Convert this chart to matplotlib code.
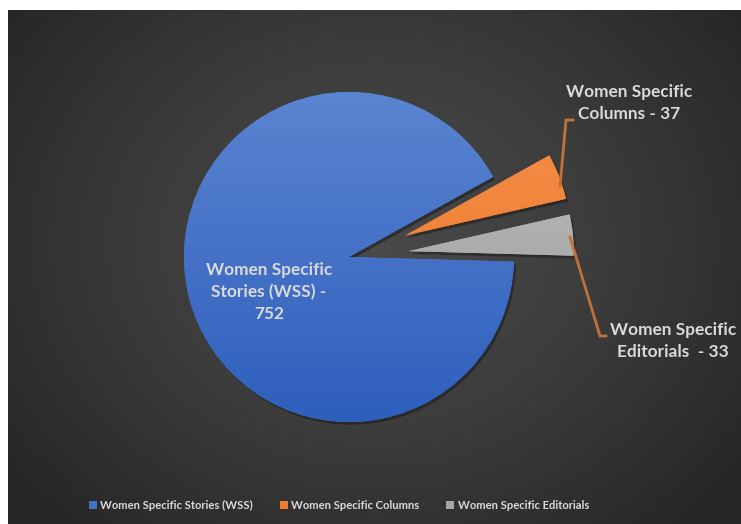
import numpy as np
import matplotlib.pyplot as plt
import matplotlib.patheffects as pe
from matplotlib.patches import Patch
from matplotlib.colors import LinearSegmentedColormap

categories = ['Women Specific Stories (WSS)', 'Women Specific Columns', 'Women Specific Editorials']
values = [752, 37, 33]
labels = ['Women Specific\nStories (WSS) -\n752', 'Women Specific\nColumns - 37', 'Women Specific\nEditorials  - 33']
colors = ['#4472c4', '#ed7d31', '#a5a5a5']
grad_top = ['#5b84d0', '#f3914f', '#bebebe']
grad_bot = ['#2e5fbd', '#ef7621', '#9b9b9b']

plt.rcParams['font.family'] = ['Lato', 'DejaVu Sans']
W, H = 741, 524
fig = plt.figure(figsize=(W / 100, H / 100), dpi=100)
fig.patch.set_facecolor('white')

# dark panel with radial gradient
bg = fig.add_axes([8 / W, 0, 1 - 8 / W, (H - 10) / H])
bg.set_axis_off()
yy, xx = np.mgrid[0:1:300j, 0:1:420j]
r = np.sqrt(((xx - 0.5) / 0.62) ** 2 + ((yy - 0.45) / 0.75) ** 2)
r = np.clip(r, 0, 1)
bgmap = LinearSegmentedColormap.from_list('bg', ['#4a4a4a', '#3c3c3c', '#272727'])
bg.imshow(r, cmap=bgmap, aspect='auto', extent=[0, 1, 0, 1], origin='upper')

ax = fig.add_axes([0, 0, 1, 1])
ax.set_axis_off()
ax.patch.set_alpha(0)

cx, cy, rad = 349, H - 257, 165
wedges, _ = ax.pie(values, colors=colors, startangle=-1.6, counterclock=False,
                   explode=[0, 60, 60], center=(cx, cy), radius=rad,
                   wedgeprops=dict(linewidth=0))

for w, c1, c2 in zip(wedges, grad_top, grad_bot):
    w.set_path_effects([pe.SimplePatchShadow(offset=(1.5, -2), shadow_rgbFace='#181818', alpha=0.5),
                        pe.Normal()])
    cmap = LinearSegmentedColormap.from_list('g', [c2, c1])
    x0, y0 = w.center
    g = np.linspace(0, 1, 256).reshape(-1, 1)
    im = ax.imshow(g, cmap=cmap, origin='lower', aspect='auto',
                   extent=[x0 - rad, x0 + rad, y0 - rad, y0 + rad], zorder=w.get_zorder() + 0.1)
    im.set_clip_path(w)

ax.set_xlim(0, W)
ax.set_ylim(0, H)
ax.set_aspect('equal')

txt = dict(color='#d9d9d9', fontsize=12.4, fontweight='bold', ha='center', va='center',
           linespacing=1.45, zorder=10)
ax.text(269, H - 292, labels[0], **txt)
ax.text(629, H - 103, labels[1], **txt)
ax.text(673, H - 341, labels[2], **txt)

line_c = '#c0713a'
ax.plot([573, 566, 560], [H - 120, H - 120, H - 186], color=line_c, lw=2, zorder=9,
        solid_joinstyle='miter')
ax.plot([606, 600, 570], [H - 336, H - 336, H - 237], color=line_c, lw=2, zorder=9,
        solid_joinstyle='miter')

handles = [Patch(facecolor=c, edgecolor='none') for c in colors]
fig.legend(handles, categories, loc='center', bbox_to_anchor=(339 / W, 19 / H), ncol=3,
           frameon=False, labelcolor='#d9d9d9', handlelength=0.7,
           handleheight=0.7, handletextpad=0.3, columnspacing=2.4,
           prop=dict(weight='bold', size=8.1))

fig.savefig('out.png', dpi=100, facecolor='white')
